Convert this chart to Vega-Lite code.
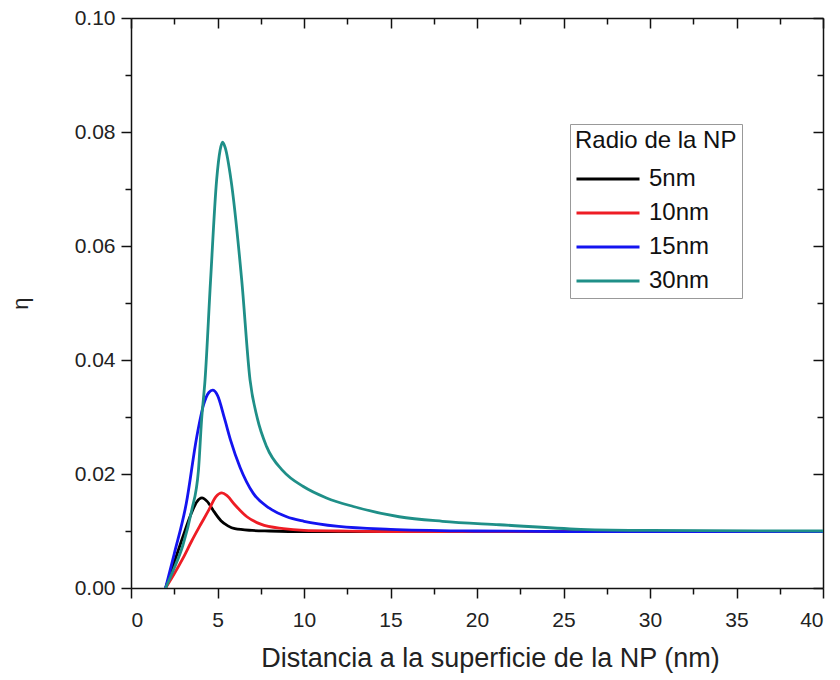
{
  "$schema": "https://vega.github.io/schema/vega-lite/v6.json",
  "autosize": {"type": "none"},
  "width": 692,
  "height": 570,
  "padding": {"left": 131, "top": 18, "right": 17, "bottom": 92},
  "background": "white",
  "config": {
    "font": "Liberation Sans",
    "view": {"stroke": null},
    "axis": {"domainColor": "#111", "domainWidth": 1.5, "tickColor": "#111", "tickWidth": 1.5, "grid": false, "labelFont": "Liberation Sans", "titleFont": "Liberation Sans", "labelColor": "#222", "titleColor": "#222", "titleFontWeight": "normal"}
  },
  "data": {"values": [
    {"s": "5nm", "x": 2.0, "y": 0},
    {"s": "5nm", "x": 2.5, "y": 0.0045},
    {"s": "5nm", "x": 3.0, "y": 0.009},
    {"s": "5nm", "x": 3.5, "y": 0.0132},
    {"s": "5nm", "x": 3.8, "y": 0.0151},
    {"s": "5nm", "x": 4.1, "y": 0.0158},
    {"s": "5nm", "x": 4.4, "y": 0.0152},
    {"s": "5nm", "x": 4.8, "y": 0.0134},
    {"s": "5nm", "x": 5.2, "y": 0.0118},
    {"s": "5nm", "x": 5.6, "y": 0.0109},
    {"s": "5nm", "x": 6.0, "y": 0.0104},
    {"s": "5nm", "x": 7.0, "y": 0.0101},
    {"s": "5nm", "x": 8.0, "y": 0.0100},
    {"s": "5nm", "x": 10, "y": 0.0099},
    {"s": "5nm", "x": 20, "y": 0.0099},
    {"s": "5nm", "x": 40, "y": 0.0099},
    {"s": "10nm", "x": 2.0, "y": 0},
    {"s": "10nm", "x": 2.5, "y": 0.0025},
    {"s": "10nm", "x": 3.0, "y": 0.0052},
    {"s": "10nm", "x": 3.5, "y": 0.0082},
    {"s": "10nm", "x": 4.0, "y": 0.0110},
    {"s": "10nm", "x": 4.5, "y": 0.0137},
    {"s": "10nm", "x": 4.9, "y": 0.0160},
    {"s": "10nm", "x": 5.25, "y": 0.0167},
    {"s": "10nm", "x": 5.55, "y": 0.0162},
    {"s": "10nm", "x": 6.0, "y": 0.0146},
    {"s": "10nm", "x": 6.7, "y": 0.0125},
    {"s": "10nm", "x": 7.5, "y": 0.0112},
    {"s": "10nm", "x": 8.8, "y": 0.0104},
    {"s": "10nm", "x": 10, "y": 0.0101},
    {"s": "10nm", "x": 12, "y": 0.0100},
    {"s": "10nm", "x": 15, "y": 0.0099},
    {"s": "10nm", "x": 40, "y": 0.0099},
    {"s": "15nm", "x": 2.0, "y": 0},
    {"s": "15nm", "x": 2.5, "y": 0.006},
    {"s": "15nm", "x": 3.2, "y": 0.0149},
    {"s": "15nm", "x": 3.8, "y": 0.0265},
    {"s": "15nm", "x": 4.2, "y": 0.0322},
    {"s": "15nm", "x": 4.5, "y": 0.0343},
    {"s": "15nm", "x": 4.72, "y": 0.0347},
    {"s": "15nm", "x": 5.0, "y": 0.0338},
    {"s": "15nm", "x": 5.4, "y": 0.0298},
    {"s": "15nm", "x": 5.75, "y": 0.0260},
    {"s": "15nm", "x": 6.3, "y": 0.0212},
    {"s": "15nm", "x": 7.07, "y": 0.0166},
    {"s": "15nm", "x": 8.0, "y": 0.0140},
    {"s": "15nm", "x": 9.0, "y": 0.0125},
    {"s": "15nm", "x": 10, "y": 0.0117},
    {"s": "15nm", "x": 12, "y": 0.0108},
    {"s": "15nm", "x": 15, "y": 0.0103},
    {"s": "15nm", "x": 20, "y": 0.0100},
    {"s": "15nm", "x": 25, "y": 0.0099},
    {"s": "15nm", "x": 40, "y": 0.0099},
    {"s": "30nm", "x": 2.0, "y": 0},
    {"s": "30nm", "x": 2.5, "y": 0.0035},
    {"s": "30nm", "x": 3.0, "y": 0.0075},
    {"s": "30nm", "x": 3.5, "y": 0.0135},
    {"s": "30nm", "x": 3.9, "y": 0.0207},
    {"s": "30nm", "x": 4.08, "y": 0.0295},
    {"s": "30nm", "x": 4.28, "y": 0.0365},
    {"s": "30nm", "x": 4.6, "y": 0.054},
    {"s": "30nm", "x": 4.95, "y": 0.0716},
    {"s": "30nm", "x": 5.15, "y": 0.0768},
    {"s": "30nm", "x": 5.3, "y": 0.0782},
    {"s": "30nm", "x": 5.45, "y": 0.0772},
    {"s": "30nm", "x": 5.78, "y": 0.0716},
    {"s": "30nm", "x": 6.4, "y": 0.054},
    {"s": "30nm", "x": 6.88, "y": 0.0365},
    {"s": "30nm", "x": 7.3, "y": 0.0298},
    {"s": "30nm", "x": 7.84, "y": 0.0248},
    {"s": "30nm", "x": 8.8, "y": 0.0205},
    {"s": "30nm", "x": 9.96, "y": 0.0178},
    {"s": "30nm", "x": 11.3, "y": 0.0158},
    {"s": "30nm", "x": 12.85, "y": 0.0143},
    {"s": "30nm", "x": 15.5, "y": 0.0125},
    {"s": "30nm", "x": 18, "y": 0.0117},
    {"s": "30nm", "x": 21.3, "y": 0.0111},
    {"s": "30nm", "x": 26, "y": 0.0103},
    {"s": "30nm", "x": 30, "y": 0.0101},
    {"s": "30nm", "x": 40, "y": 0.0100}
  ]},
  "resolve": {"axis": {"x": "independent", "y": "independent"}},
  "layer": [
    {
      "mark": {"type": "line", "interpolate": "monotone", "strokeWidth": 2.8, "clip": true},
      "encoding": {
        "x": {"field": "x", "type": "quantitative", "scale": {"domain": [0, 40], "nice": false},
          "axis": {"orient": "bottom", "title": "Distancia a la superficie de la NP (nm)", "titleFontSize": 27, "titlePadding": 15, "titleX": 359, "titleAlign": "center", "labelFontSize": 21, "labelPadding": 11,
            "values": [0,2.5,5,7.5,10,12.5,15,17.5,20,22.5,25,27.5,30,32.5,35,37.5,40],
            "labelExpr": "datum.value % 5 === 0 ? format(datum.value, 'd') : ''",
            "tickSize": {"condition": {"test": "datum.value % 5 === 0", "value": 10}, "value": 6}}},
        "y": {"field": "y", "type": "quantitative", "scale": {"domain": [0, 0.1], "nice": false},
          "axis": {"orient": "left", "title": "η", "titleFontSize": 22, "titlePadding": 42, "labelFontSize": 21, "labelPadding": 6,
            "values": [0,0.01,0.02,0.03,0.04,0.05,0.06,0.07,0.08,0.09,0.1],
            "labelExpr": "round(datum.value*100) % 2 === 0 ? format(datum.value, '.2f') : ''",
            "tickSize": {"condition": {"test": "round(datum.value*100) % 2 === 0", "value": 10}, "value": 6}}},
        "color": {"field": "s", "type": "nominal",
          "scale": {"domain": ["5nm", "10nm", "15nm", "30nm"], "range": ["#000000", "#ee1c24", "#1414f0", "#1f8f88"]},
          "legend": {"title": "Radio de la NP", "orient": "none", "legendX": 439, "legendY": 106,
            "titleFontSize": 24, "titleFontWeight": "normal", "titleColor": "#111", "titlePadding": 14,
            "labelFontSize": 24, "labelColor": "#111", "labelOffset": 50,
            "symbolType": "M-1,0H5", "symbolSize": 441, "symbolStrokeWidth": 3,
            "rowPadding": 10, "padding": 5, "strokeColor": "#999", "fillColor": "white"}}
      }
    },
    {
      "mark": {"type": "rule", "opacity": 0},
      "encoding": {
        "x": {"field": "x", "type": "quantitative", "scale": {"domain": [0, 40], "nice": false},
          "axis": {"orient": "top", "title": null, "labels": false,
            "values": [0,2.5,5,7.5,10,12.5,15,17.5,20,22.5,25,27.5,30,32.5,35,37.5,40],
            "tickSize": {"condition": {"test": "datum.value % 5 === 0", "value": -10}, "value": -6}}},
        "y": {"field": "y", "type": "quantitative", "scale": {"domain": [0, 0.1], "nice": false},
          "axis": {"orient": "right", "title": null, "labels": false,
            "values": [0,0.01,0.02,0.03,0.04,0.05,0.06,0.07,0.08,0.09,0.1],
            "tickSize": {"condition": {"test": "round(datum.value*100) % 2 === 0", "value": -10}, "value": -6}}}
      }
    }
  ]
}
